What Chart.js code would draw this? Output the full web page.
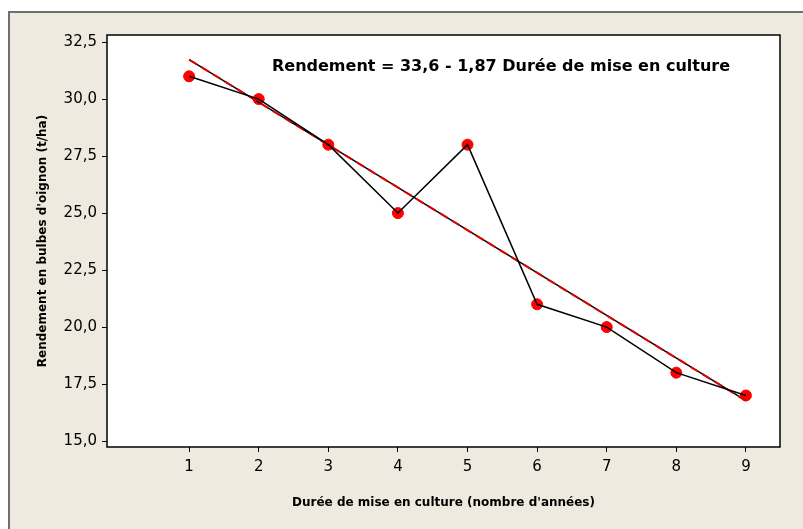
<!DOCTYPE html>
<html>
<head>
<meta charset="utf-8">
<script src="https://cdn.jsdelivr.net/npm/chart.js@4"></script>
<style>
    html, body { margin: 0; padding: 0; background: #ffffff; }
    #wrap { width: 803px; height: 529px; }
</style>
</head>
<body>
<div id="wrap"><canvas id="rendementChart" width="803" height="529"></canvas></div>
<script>
// Données
const annees = [1, 2, 3, 4, 5, 6, 7, 8, 9];
const rendements = [31, 30, 28, 25, 28, 21, 20, 18, 17];

// Droite de régression (extrémités)
const droiteX = [1, 9];
const droiteY = [31.73, 16.77];

// Graduations
const xTicks = [1, 2, 3, 4, 5, 6, 7, 8, 9];
const yTicks = [15, 17.5, 20, 22.5, 25, 27.5, 30, 32.5];

const equation = 'Rendement = 33,6 - 1,87 Durée de mise en culture';

Chart.defaults.font.family = "'DejaVu Sans', Verdana, sans-serif";
Chart.defaults.color = '#000000';

// Fond beige + cadre du graphique
const fondPlugin = {
    id: 'fond',
    beforeDraw: (chart) => {
        const c = chart.ctx;
        const area = chart.chartArea;
        c.save();
        c.fillStyle = '#ffffff';
        c.fillRect(0, 0, chart.width, chart.height);
        c.fillStyle = '#eeeae0';
        c.fillRect(9, 12, chart.width - 9, chart.height - 12);
        c.strokeStyle = '#6f6f6f';
        c.lineWidth = 2;
        c.beginPath();
        c.moveTo(9, chart.height);
        c.lineTo(9, 12);
        c.lineTo(chart.width, 12);
        c.stroke();
        c.fillStyle = '#ffffff';
        c.fillRect(area.left, area.top, area.right - area.left, area.bottom - area.top);
        c.restore();
    },
    afterDraw: (chart) => {
        const c = chart.ctx;
        const area = chart.chartArea;
        c.save();
        c.strokeStyle = '#000000';
        c.lineWidth = 1.5;
        c.strokeRect(area.left, area.top, area.right - area.left, area.bottom - area.top);
        c.fillStyle = '#000000';
        c.font = "bold 16px 'DejaVu Sans'";
        c.textBaseline = 'middle';
        c.textAlign = 'left';
        c.fillText(equation, 272, 67);
        c.restore();
    }
};

const ctx = document.getElementById('rendementChart').getContext('2d');
const rendementChart = new Chart(ctx, {
    type: 'scatter',
    data: {
        datasets: [
            {
                label: 'Rendement',
                data: annees.map((a, i) => ({ x: a, y: rendements[i] })),
                showLine: true,
                borderColor: '#000000',
                borderWidth: 1.5,
                pointRadius: 0,
                order: 1
            },
            {
                label: 'Ajustement (rouge)',
                data: droiteX.map((a, i) => ({ x: a, y: droiteY[i] })),
                showLine: true,
                borderColor: '#e00000',
                borderWidth: 2,
                borderDash: [9, 5],
                pointRadius: 0,
                order: 2
            },
            {
                label: 'Ajustement',
                data: droiteX.map((a, i) => ({ x: a, y: droiteY[i] })),
                showLine: true,
                borderColor: '#000000',
                borderWidth: 1.5,
                pointRadius: 0,
                order: 3
            },
            {
                label: 'Points',
                data: annees.map((a, i) => ({ x: a, y: rendements[i] })),
                pointRadius: 5.5,
                pointBackgroundColor: '#ff0000',
                pointBorderColor: '#ff0000',
                order: 4
            }
        ]
    },
    options: {
        responsive: false,
        animation: false,
        layout: { padding: { left: 0, top: 35, right: 23, bottom: 0 } },
        plugins: {
            legend: { display: false },
            tooltip: { enabled: false }
        },
        scales: {
            x: {
                type: 'linear',
                min: -0.18,
                max: 9.49,
                afterBuildTicks: (scale) => { scale.ticks = xTicks.map(v => ({ value: v })); },
                afterFit: (scale) => { scale.height = 82; },
                grid: { drawOnChartArea: false, tickLength: 5, color: '#000000', lineWidth: 1 },
                border: { display: false },
                ticks: { padding: 6, font: { size: 15 }, color: '#000000' },
                title: {
                    display: true,
                    text: "Durée de mise en culture (nombre d'années)",
                    font: { size: 12, weight: 'bold' },
                    color: '#000000',
                    padding: { top: 0, bottom: 19 }
                }
            },
            y: {
                min: 14.74,
                max: 32.81,
                afterBuildTicks: (scale) => { scale.ticks = yTicks.map(v => ({ value: v })); },
                afterFit: (scale) => { scale.width = 107; },
                grid: { drawOnChartArea: false, tickLength: 5, color: '#000000', lineWidth: 1 },
                border: { display: false },
                ticks: {
                    padding: 5,
                    font: { size: 15 },
                    color: '#000000',
                    callback: (v) => v.toFixed(1).replace('.', ',')
                },
                title: {
                    display: true,
                    text: "Rendement en bulbes d'oignon (t/ha)",
                    font: { size: 12, weight: 'bold' },
                    color: '#000000',
                    padding: { top: 36, bottom: 0 }
                }
            }
        }
    },
    plugins: [fondPlugin]
});
</script>
</body>
</html>
